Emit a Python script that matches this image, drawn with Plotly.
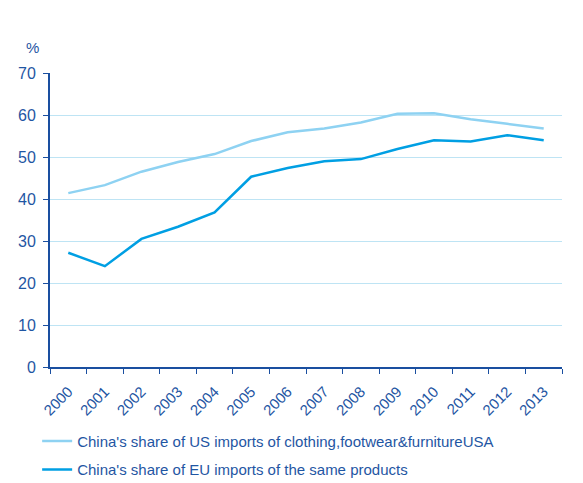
import plotly.graph_objs as go

years = [str(y) for y in range(2000, 2014)]
us_share = [41.4, 43.3, 46.5, 48.8, 50.7, 53.8, 55.9, 56.8, 58.2, 60.3, 60.4, 59.0, 57.9, 56.8]
eu_share = [27.2, 24.0, 30.5, 33.4, 36.8, 45.3, 47.4, 49.0, 49.5, 51.9, 54.0, 53.7, 55.2, 54.0]

us_name = "China's share of US imports of clothing,footwear&furnitureUSA"
eu_name = "China's share of EU imports of the same products"

text_col = '#1F56A3'
axis_col = '#1A4FA0'

fig = go.Figure()
fig.add_trace(go.Scatter(x=years, y=us_share, name=us_name, mode='lines', legendgroup='us',
                         line=dict(color='#8ED2F2', width=2.5)))
fig.add_trace(go.Scatter(x=years, y=eu_share, name=eu_name, mode='lines', legendgroup='eu',
                         line=dict(color='#009FE3', width=2.5)))

# page body adds an 8px offset, so margins are shifted to compensate
fig.update_layout(
    width=583, height=483,
    margin=dict(l=42, r=29, t=65, b=124, autoexpand=False),
    plot_bgcolor='white', paper_bgcolor='white',
    font=dict(family='Liberation Sans, Arial, sans-serif', size=15, color=text_col),
    showlegend=True,
    legend=dict(orientation='v', xref='container', yref='container',
                x=0.05, xanchor='left', y=0.137, yanchor='top',
                font=dict(size=15, color=text_col), tracegroupgap=6,
                bgcolor='rgba(0,0,0,0)'),
    annotations=[dict(text='%', x=-0.051, y=1.122, xref='paper', yref='paper',
                      showarrow=False, font=dict(size=15, color=text_col))],
)
fig.update_xaxes(type='category', range=[-0.5, 13.5], tickangle=-45, tickson='boundaries',
                 ticks='outside', ticklen=5, tickcolor=axis_col, automargin=False,
                 showline=True, linecolor=axis_col, linewidth=2, ticklabelstandoff=8,
                 showgrid=False, tickfont=dict(size=15, color=text_col))
fig.update_yaxes(range=[0, 70], dtick=10, ticks='outside', ticklen=5, automargin=False,
                 tickcolor=axis_col, showline=True, linecolor=axis_col, linewidth=2,
                 gridcolor='#BEE4F4', gridwidth=1, zeroline=False, ticklabelstandoff=4,
                 tickfont=dict(size=16, color=text_col))

fig.write_html("out.html")
